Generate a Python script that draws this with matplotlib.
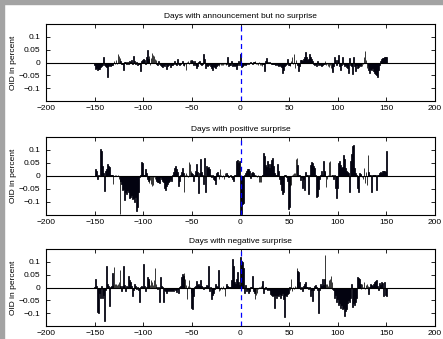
import matplotlib
matplotlib.use("Agg")
import matplotlib.pyplot as plt
import numpy as np

WIDTH = 443
HEIGHT = 339

days = np.arange(-150, 151)

# OID in percent, days -150 .. 150
no_surprise = [
    -0.010, -0.026, -0.020, -0.028, -0.024, -0.026, -0.018, -0.012, -0.008, 0.022,
    -0.010, -0.012, -0.016, -0.056, -0.014, -0.010, -0.012, -0.008, -0.010, -0.006,
    0.004, -0.006, 0.010, -0.004, 0.032, 0.025, 0.018, 0.004, -0.006, -0.004,
    -0.030, 0.003, 0.002, -0.004, 0.001, -0.004, 0.004, 0.002, 0.008, -0.006,
    0.026, 0.004, -0.006, 0.002, -0.010, -0.004, -0.006, -0.032, 0.006, 0.010,
    0.012, 0.008, -0.006, 0.020, 0.049, 0.015, 0.026, -0.010, 0.018, 0.036,
    0.030, 0.024, 0.015, 0.010, -0.004, -0.008, 0.004, -0.006, -0.010, -0.014,
    -0.016, -0.010, -0.014, -0.006, -0.025, -0.014, -0.010, -0.006, -0.016, -0.010,
    -0.008, -0.004, 0.004, -0.006, -0.010, 0.015, -0.004, -0.008, -0.004, -0.002,
    0.004, -0.008, -0.012, -0.006, -0.030, 0.003, 0.005, -0.006, 0.008, 0.006,
    0.008, 0.004, -0.008, 0.004, -0.010, -0.020, -0.012, 0.002, 0.004, -0.004,
    -0.010, -0.006, 0.032, 0.015, -0.020, -0.008, -0.012, -0.010, -0.006, -0.014,
    -0.022, -0.028, -0.012, -0.016, -0.020, -0.014, -0.010, -0.004, -0.012, -0.004,
    -0.008, -0.010, -0.008, -0.004, -0.006, -0.010, -0.004, 0.020, -0.014, -0.010,
    -0.010, 0.004, -0.014, -0.010, -0.012, -0.008, -0.025, -0.010, 0.004, -0.008,
    0.032, -0.016, -0.012, -0.008, -0.005, -0.008, -0.004, -0.002, -0.006, -0.003,
    0.002, -0.003, -0.004, 0.002, 0.001, 0.004, -0.004, -0.006, -0.008, 0.002,
    -0.008, -0.010, -0.012, -0.006, -0.004, -0.033, 0.004, 0.017, 0.003, -0.002,
    0.002, -0.003, -0.004, -0.006, -0.004, -0.004, -0.008, -0.006, -0.010, -0.012,
    -0.010, -0.014, -0.018, -0.040, -0.030, -0.012, -0.008, -0.006, 0.013, -0.010,
    -0.008, -0.012, 0.006, 0.022, -0.004, 0.032, -0.020, 0.010, -0.006, -0.010,
    -0.035, -0.012, 0.008, 0.010, 0.004, 0.012, 0.020, 0.039, 0.020, 0.010,
    0.014, 0.032, 0.020, 0.015, 0.006, -0.004, -0.010, -0.006, -0.012, 0.004,
    -0.008, -0.004, -0.008, -0.012, -0.010, -0.004, -0.006, 0.004, -0.008, -0.006,
    -0.012, -0.016, -0.010, -0.020, -0.028, -0.038, -0.014, 0.020, 0.008, -0.010,
    0.010, 0.028, -0.012, -0.030, -0.010, 0.020, -0.006, -0.014, -0.010, -0.016,
    -0.020, -0.040, 0.018, -0.010, -0.014, -0.045, 0.020, -0.012, -0.035, -0.010,
    -0.020, -0.016, -0.010, -0.014, -0.008, -0.012, -0.006, 0.020, 0.043, 0.010,
    -0.020, -0.014, -0.030, -0.040, -0.025, -0.030, -0.020, -0.035, -0.040, -0.045,
    -0.050, -0.055, -0.030, -0.010, 0.005, 0.012, 0.016, 0.018, 0.020, 0.020, 0.020,
]

positive = [
    0.000, 0.028, 0.020, -0.010, 0.005, 0.000, 0.104, 0.095, 0.040, 0.010,
    -0.058, 0.020, 0.026, 0.046, 0.040, 0.036, 0.005, 0.002, 0.003, -0.032,
    0.000, 0.003, 0.002, 0.001, 0.002, -0.010, -0.145, -0.020, -0.030, -0.055,
    -0.050, -0.092, -0.060, -0.070, -0.055, -0.060, -0.085, -0.080, -0.075, -0.090,
    -0.085, -0.100, -0.080, -0.135, -0.120, -0.063, -0.005, 0.002, 0.055, 0.050,
    0.004, 0.002, 0.028, 0.010, -0.013, -0.020, -0.026, -0.015, -0.030, -0.040,
    -0.035, -0.005, -0.010, -0.015, -0.020, -0.025, -0.022, -0.028, -0.005, -0.010,
    -0.020, -0.025, -0.048, -0.052, -0.040, -0.030, -0.025, -0.020, -0.010, -0.020,
    0.005, 0.015, 0.032, 0.040, 0.028, 0.015, -0.039, -0.020, 0.005, 0.015,
    0.032, 0.010, -0.062, 0.003, 0.010, 0.005, -0.005, 0.052, 0.045, 0.020,
    0.010, 0.008, -0.020, 0.005, 0.020, 0.045, 0.015, -0.065, 0.010, 0.065,
    0.015, 0.005, -0.030, 0.070, -0.060, 0.040, 0.030, 0.035, 0.028, 0.005,
    -0.005, 0.003, -0.010, -0.015, -0.030, 0.010, 0.015, 0.005, -0.010, 0.025,
    0.003, -0.005, 0.005, -0.010, 0.013, 0.002, 0.010, 0.002, -0.005, 0.000,
    0.003, -0.005, -0.010, -0.020, 0.005, 0.002, 0.058, 0.062, 0.050, 0.056,
    -0.150, -0.148, -0.106, -0.105, 0.005, 0.012, 0.020, 0.028, 0.025, 0.020,
    -0.008, 0.010, 0.017, 0.010, 0.002, 0.001, 0.003, -0.002, 0.002, -0.022,
    -0.025, -0.025, 0.003, 0.002, 0.088, 0.075, 0.043, 0.035, 0.056, 0.045,
    0.030, 0.048, 0.063, 0.069, 0.040, 0.010, 0.005, 0.003, 0.045, 0.020,
    -0.010, -0.030, -0.055, -0.068, -0.060, 0.005, 0.002, -0.005, -0.020, -0.128,
    -0.120, -0.040, -0.035, 0.005, 0.008, 0.010, 0.012, 0.066, 0.070, 0.043,
    0.003, 0.005, -0.015, -0.005, -0.048, -0.010, -0.055, 0.015, 0.003, 0.002,
    -0.070, 0.003, 0.043, 0.052, 0.050, 0.040, 0.030, 0.005, -0.080, -0.077,
    -0.050, -0.010, 0.003, 0.018, 0.005, 0.058, 0.020, 0.015, -0.042, -0.010,
    0.005, 0.053, 0.056, 0.005, 0.003, 0.002, -0.010, 0.004, -0.048, -0.085,
    -0.045, 0.050, 0.056, 0.043, 0.030, 0.035, 0.082, 0.065, 0.030, 0.020,
    0.015, 0.010, -0.060, 0.056, 0.085, 0.115, 0.120, 0.030, 0.010, 0.005,
    -0.048, -0.060, 0.010, 0.008, 0.005, -0.005, -0.010, 0.032, -0.028, 0.015,
    -0.035, 0.080, 0.015, 0.003, 0.005, -0.062, 0.005, 0.004, 0.003, 0.002,
    -0.055, 0.005, 0.003, 0.010, 0.015, 0.012, 0.020, 0.020, 0.018, 0.015, 0.095,
]

negative = [
    0.002, 0.032, 0.005, -0.097, -0.098, -0.020, -0.041, 0.004, -0.040, -0.030,
    -0.132, -0.010, 0.082, 0.013, 0.004, -0.072, 0.002, 0.005, 0.058, 0.010,
    0.080, 0.012, 0.013, 0.010, 0.013, 0.020, 0.067, 0.005, -0.013, 0.005,
    0.084, 0.010, -0.013, 0.005, 0.003, 0.045, 0.028, 0.020, 0.005, -0.032,
    -0.010, 0.013, 0.005, -0.005, 0.002, -0.010, -0.055, 0.002, 0.005, 0.003,
    0.093, 0.005, -0.013, 0.003, 0.042, 0.035, 0.026, 0.010, 0.028, 0.020,
    0.010, 0.030, 0.075, 0.013, 0.003, -0.005, 0.002, -0.055, 0.040, 0.005,
    0.002, -0.055, -0.008, -0.015, -0.020, -0.012, -0.010, -0.012, -0.008, -0.015,
    -0.010, -0.012, -0.006, -0.010, -0.018, -0.005, -0.020, 0.002, 0.004, 0.040,
    0.052, 0.045, 0.058, 0.032, 0.010, -0.045, 0.005, 0.030, 0.003, -0.020,
    -0.078, -0.084, -0.035, 0.003, 0.005, 0.026, 0.010, 0.013, 0.005, 0.028,
    0.005, 0.003, -0.005, 0.002, 0.003, 0.010, 0.005, 0.084, -0.013, 0.003,
    -0.045, -0.030, -0.020, -0.005, 0.013, 0.005, 0.003, 0.067, -0.013, -0.008,
    0.002, -0.005, 0.004, -0.006, -0.032, 0.005, 0.013, 0.006, 0.002, 0.003,
    0.003, 0.030, 0.110, 0.084, 0.023, 0.015, 0.035, 0.060, 0.020, 0.010,
    0.117, 0.105, 0.098, 0.075, -0.022, 0.009, -0.013, -0.005, -0.020, -0.015,
    0.002, 0.003, 0.045, -0.013, -0.020, -0.045, -0.030, -0.022, -0.005, 0.002,
    0.003, 0.005, 0.015, 0.026, -0.020, -0.006, 0.002, -0.005, -0.008, -0.004,
    -0.010, -0.026, -0.030, -0.035, -0.030, -0.078, -0.030, -0.040, -0.030, -0.035,
    -0.025, -0.040, -0.030, -0.020, -0.045, -0.114, -0.030, -0.035, -0.025, -0.020,
    0.003, -0.010, 0.032, -0.013, 0.002, -0.005, 0.004, 0.003, 0.075, 0.065,
    0.060, 0.020, -0.006, 0.002, -0.013, 0.005, 0.013, 0.020, 0.003, 0.002,
    -0.006, 0.003, -0.032, -0.010, -0.052, -0.010, 0.005, 0.008, 0.003, -0.008,
    -0.100, -0.010, 0.013, 0.005, 0.032, 0.010, 0.035, 0.127, 0.015, 0.013,
    0.005, 0.030, 0.032, 0.045, 0.020, -0.006, -0.008, -0.040, -0.030, -0.058,
    -0.045, -0.070, -0.060, -0.078, -0.070, -0.084, -0.080, -0.110, -0.090, -0.085,
    -0.060, -0.050, -0.058, -0.040, 0.013, -0.075, -0.060, -0.070, -0.058, -0.040,
    0.040, 0.036, 0.035, 0.013, -0.006, 0.013, 0.003, 0.020, -0.005, 0.010,
    0.013, 0.005, -0.026, 0.003, 0.013, 0.010, 0.005, 0.012, 0.020, 0.025,
    0.030, 0.004, -0.010, 0.017, 0.010, 0.020, 0.018, -0.033, 0.020, -0.030, -0.032,
]

titles = [
    "Days with announcement but no surprise",
    "Days with positive surprise",
    "Days with negative surprise",
]
series = [no_surprise, positive, negative]

plt.rcParams["font.family"] = ["Liberation Sans", "DejaVu Sans"]
plt.rcParams["font.size"] = 6

fig = plt.figure(figsize=(WIDTH / 100, HEIGHT / 100), dpi=100)

# grey frame strips at the left and top edges
fig.patches.append(plt.Rectangle((0, 0), 4 / WIDTH, 1, transform=fig.transFigure,
                                 color="#a3a3a3", zorder=0))
fig.patches.append(plt.Rectangle((0, 1 - 4 / HEIGHT), 1, 4 / HEIGHT,
                                 transform=fig.transFigure, color="#a3a3a3", zorder=0))

# axes boxes in pixels: (top, bottom)
boxes = [(24, 101), (137, 215), (249, 326)]
left_px, right_px = 46, 435

for (top, bottom), title, vals in zip(boxes, titles, series):
    ax = fig.add_axes([left_px / WIDTH, 1 - bottom / HEIGHT,
                       (right_px - left_px) / WIDTH, (bottom - top) / HEIGHT])
    ax.bar(days, vals, width=0.8, color="#000066", edgecolor="black", linewidth=0.55)
    ax.axhline(0, color="black", linewidth=0.8)
    ax.axvline(0, color="blue", linestyle=(0, (4, 3)), linewidth=0.9)

    ax.set_xlim(-200, 200)
    ax.set_ylim(-0.15, 0.15)
    ax.set_xticks([-200, -150, -100, -50, 0, 50, 100, 150, 200])
    ax.set_yticks([-0.1, -0.05, 0, 0.05, 0.1])
    ax.set_yticklabels(["\u22120.1", "\u22120.05", "0", "0.05", "0.1"])
    ax.set_xticklabels(["\u2212200", "\u2212150", "\u2212100", "\u221250", "0",
                        "50", "100", "150", "200"])
    ax.tick_params(direction="in", length=3, width=0.6, top=True, right=True,
                   labelsize=6)
    ax.tick_params(axis="y", pad=4)
    ax.tick_params(axis="x", pad=3)
    for s in ax.spines.values():
        s.set_linewidth(0.8)
    ax.set_title(title, fontsize=6, pad=4)
    ax.set_ylabel("OID in percent", fontsize=6)
    ax.yaxis.set_label_coords(-0.074, 0.5)

fig.savefig("out.png", dpi=100)
